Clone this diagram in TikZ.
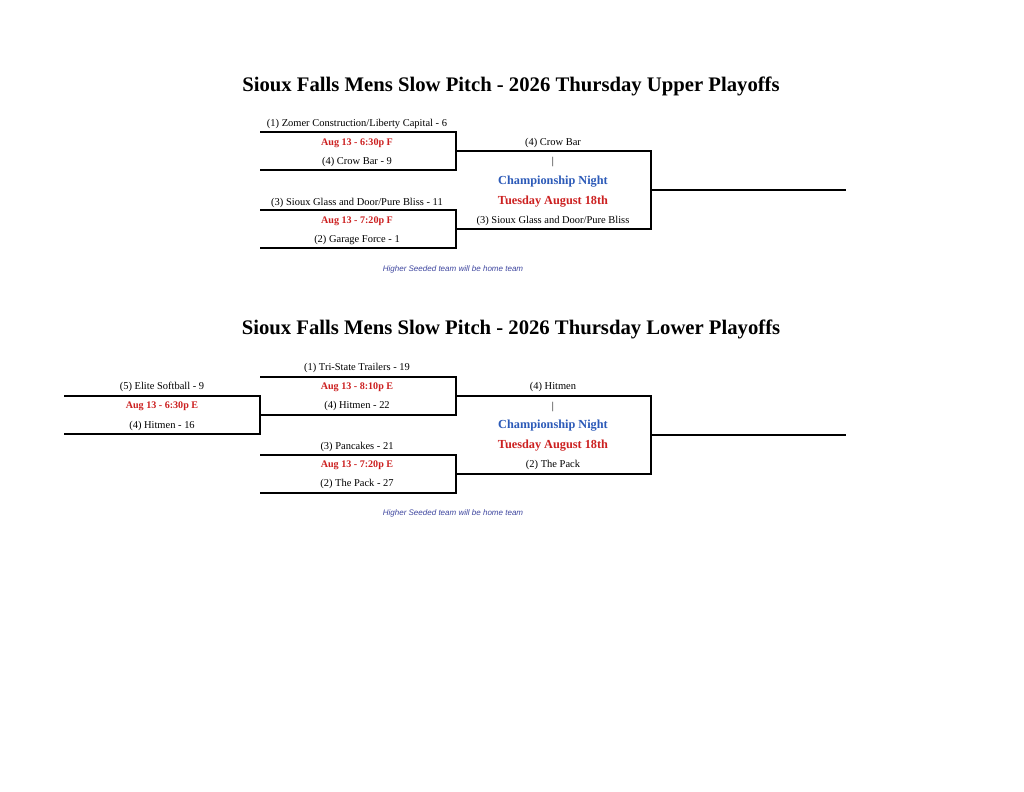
\documentclass[tikz,border=0pt]{standalone}
\usepackage{fontspec}
\setmainfont{Liberation Serif}
\newfontfamily\notefont{Liberation Sans}
\definecolor{teamred}{RGB}{204,32,32}
\definecolor{champblue}{RGB}{44,90,184}
\definecolor{noteblue}{RGB}{64,72,160}
\begin{document}
\begin{tikzpicture}[x=0.7734pt,y=-0.7734pt,
  bline/.style={line width=1.5pt, line join=miter},
  team/.style={font=\fontsize{8.1}{9}\selectfont, inner sep=0pt, yshift=-1.2pt},
  game/.style={font=\bfseries\fontsize{7.8}{9}\selectfont, text=teamred, inner sep=0pt, yshift=-1.2pt},
  champ/.style={font=\bfseries\fontsize{9.5}{11}\selectfont, text=champblue, inner sep=0pt, yshift=-1.2pt},
  cdate/.style={font=\bfseries\fontsize{9.5}{11}\selectfont, text=teamred, inner sep=0pt, yshift=-1.2pt},
  note/.style={font=\notefont\itshape\fontsize{6.2}{7}\selectfont, text=noteblue, inner sep=0pt, yshift=-1pt},
  title/.style={font=\bfseries\fontsize{16}{19}\selectfont, inner sep=0pt, yshift=-1.2pt}]
\useasboundingbox (0,0) rectangle (1024,791);
\fill[white] (0,0) rectangle (1024,791);

% ===== Upper playoffs =====
\node[title] (t1) at (511,85) {Sioux Falls Mens Slow Pitch - 2026 Thursday Upper Playoffs};

\coordinate (a1) at (260,132); \coordinate (a2) at (456,132);
\coordinate (a3) at (456,170); \coordinate (a4) at (260,170);
\draw[bline] (a1) -- (a2) -- (a3) -- (a4);
\node[team] (aT) at (357,122) {(1) Zomer Construction/Liberty Capital - 6};
\node[game] (aG) at (357,142) {Aug 13 - 6:30p F};
\node[team] (aB) at (357,160) {(4) Crow Bar - 9};

\coordinate (b1) at (260,210); \coordinate (b2) at (456,210);
\coordinate (b3) at (456,248); \coordinate (b4) at (260,248);
\draw[bline] (b1) -- (b2) -- (b3) -- (b4);
\node[team] (bT) at (357,201) {(3) Sioux Glass and Door/Pure Bliss - 11};
\node[game] (bG) at (357,220) {Aug 13 - 7:20p F};
\node[team] (bB) at (357,238) {(2) Garage Force - 1};

\coordinate (c1) at (456,151); \coordinate (c2) at (651,151);
\coordinate (c3) at (651,229); \coordinate (c4) at (456,229);
\coordinate (c5) at (651,190); \coordinate (c6) at (846,190);
\draw[bline] (c1) -- (c2) -- (c3) -- (c4);
\draw[bline] (c5) -- (c6);
\node[team] (cT) at (553,141) {(4) Crow Bar};
\node[team] (cBar) at (553,160) {|};
\node[champ] (cN) at (553,180) {Championship Night};
\node[cdate] (cD) at (553,200) {Tuesday August 18th};
\node[team] (cB) at (553,219) {(3) Sioux Glass and Door/Pure Bliss};
\node[note] (n1) at (453,268) {Higher Seeded team will be home team};

% ===== Lower playoffs =====
\node[title] (t2) at (511,328) {Sioux Falls Mens Slow Pitch - 2026 Thursday Lower Playoffs};

\coordinate (p1) at (64,396); \coordinate (p2) at (260,396);
\coordinate (p3) at (260,434); \coordinate (p4) at (64,434);
\draw[bline] (p1) -- (p2) -- (p3) -- (p4);
\node[team] (pT) at (162,385) {(5) Elite Softball - 9};
\node[game] (pG) at (162,405) {Aug 13 - 6:30p E};
\node[team] (pB) at (162,424) {(4) Hitmen - 16};

\coordinate (d1) at (260,377); \coordinate (d2) at (456,377);
\coordinate (d3) at (456,415); \coordinate (d4) at (260,415);
\draw[bline] (d1) -- (d2) -- (d3) -- (d4);
\node[team] (dT) at (357,366) {(1) Tri-State Trailers - 19};
\node[game] (dG) at (357,386) {Aug 13 - 8:10p E};
\node[team] (dB) at (357,404) {(4) Hitmen - 22};

\coordinate (e1) at (260,455); \coordinate (e2) at (456,455);
\coordinate (e3) at (456,493); \coordinate (e4) at (260,493);
\draw[bline] (e1) -- (e2) -- (e3) -- (e4);
\node[team] (eT) at (357,445) {(3) Pancakes - 21};
\node[game] (eG) at (357,464) {Aug 13 - 7:20p E};
\node[team] (eB) at (357,482) {(2) The Pack - 27};

\coordinate (f1) at (456,396); \coordinate (f2) at (651,396);
\coordinate (f3) at (651,474); \coordinate (f4) at (456,474);
\coordinate (f5) at (651,435); \coordinate (f6) at (846,435);
\draw[bline] (f1) -- (f2) -- (f3) -- (f4);
\draw[bline] (f5) -- (f6);
\node[team] (fT) at (553,385) {(4) Hitmen};
\node[team] (fBar) at (553,405) {|};
\node[champ] (fN) at (553,424) {Championship Night};
\node[cdate] (fD) at (553,444) {Tuesday August 18th};
\node[team] (fB) at (553,463) {(2) The Pack};
\node[note] (n2) at (453,512) {Higher Seeded team will be home team};
\end{tikzpicture}
\end{document}
